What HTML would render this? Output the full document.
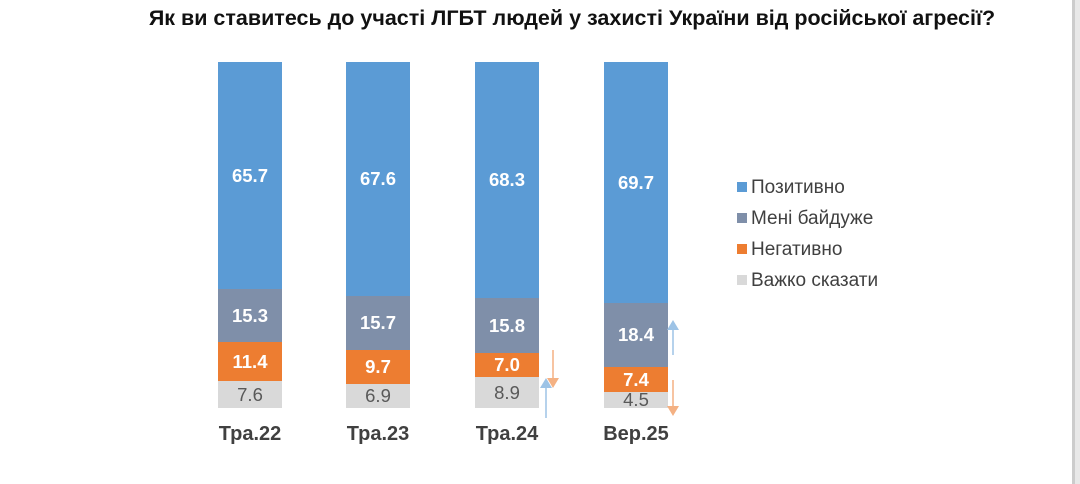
<!DOCTYPE html>
<html><head><meta charset="utf-8"><style>
body{margin:0;width:1080px;height:484px;background:#fff;overflow:hidden;font-family:"Liberation Sans",sans-serif;position:relative}
.t{position:absolute;left:0;width:1144px;top:6px;text-align:center;font-weight:bold;font-size:21.5px;color:#111}
.s{position:absolute;width:64px;display:flex;align-items:center;justify-content:center;font-weight:bold;font-size:18.5px;color:#fff}
.x{position:absolute;top:423px;width:100px;text-align:center;font-weight:bold;font-size:20px;color:#404040}
.lg{position:absolute;left:737px;font-size:19px;color:#404040}
.lg i{display:inline-block;width:10px;height:10px;margin-right:4px;vertical-align:1px}
</style></head><body>
<div class="t">Як ви ставитесь до участі ЛГБТ людей у захисті України від російської агресії?</div>
<div style="position:absolute;left:1072px;top:0;width:3px;height:484px;background:#ccc"></div>
<div style="position:absolute;left:1075px;top:0;width:5px;height:484px;background:#e8e8e8"></div>

<div class="s" style="left:218px;top:62px;height:227px;background:#5b9bd5">65.7</div>
<div class="s" style="left:218px;top:289px;height:53px;background:#7f8fa9">15.3</div>
<div class="s" style="left:218px;top:342px;height:39px;background:#ed7d31">11.4</div>
<div class="s" style="left:218px;top:381px;height:27px;background:#d9d9d9;color:#595959;font-weight:normal">7.6</div>

<div class="s" style="left:346px;top:62px;height:234px;background:#5b9bd5">67.6</div>
<div class="s" style="left:346px;top:296px;height:54px;background:#7f8fa9">15.7</div>
<div class="s" style="left:346px;top:350px;height:34px;background:#ed7d31">9.7</div>
<div class="s" style="left:346px;top:384px;height:24px;background:#d9d9d9;color:#595959;font-weight:normal">6.9</div>

<div class="s" style="left:475px;top:62px;height:236px;background:#5b9bd5">68.3</div>
<div class="s" style="left:475px;top:298px;height:55px;background:#7f8fa9">15.8</div>
<div class="s" style="left:475px;top:353px;height:24px;background:#ed7d31">7.0</div>
<div class="s" style="left:475px;top:377px;height:31px;background:#d9d9d9;color:#595959;font-weight:normal">8.9</div>

<div class="s" style="left:604px;top:62px;height:241px;background:#5b9bd5">69.7</div>
<div class="s" style="left:604px;top:303px;height:64px;background:#7f8fa9">18.4</div>
<div class="s" style="left:604px;top:367px;height:25px;background:#ed7d31">7.4</div>
<div class="s" style="left:604px;top:392px;height:16px;background:#d9d9d9;color:#595959;font-weight:normal">4.5</div>

<svg style="position:absolute;left:0;top:0" width="1080" height="484">
<g stroke-width="1.5">
<line x1="553" y1="350" x2="553" y2="380" stroke="#f4b183"/><polygon points="547,378 559,378 553,388" fill="#f4b183"/>
<line x1="546" y1="386" x2="546" y2="418" stroke="#9dc3e6"/><polygon points="540,388 552,388 546,378" fill="#9dc3e6"/>
<line x1="673" y1="328" x2="673" y2="355" stroke="#9dc3e6"/><polygon points="667,330 679,330 673,320" fill="#9dc3e6"/>
<line x1="673" y1="380" x2="673" y2="408" stroke="#f4b183"/><polygon points="667,406 679,406 673,416" fill="#f4b183"/>
</g></svg>

<div class="x" style="left:200px">Тра.22</div>
<div class="x" style="left:328px">Тра.23</div>
<div class="x" style="left:457px">Тра.24</div>
<div class="x" style="left:586px">Вер.25</div>

<div class="lg" style="top:177px"><i style="background:#5b9bd5"></i>Позитивно</div>
<div class="lg" style="top:208px"><i style="background:#7f8fa9"></i>Мені байдуже</div>
<div class="lg" style="top:239px"><i style="background:#ed7d31"></i>Негативно</div>
<div class="lg" style="top:270px"><i style="background:#d9d9d9"></i>Важко сказати</div>
</body></html>
